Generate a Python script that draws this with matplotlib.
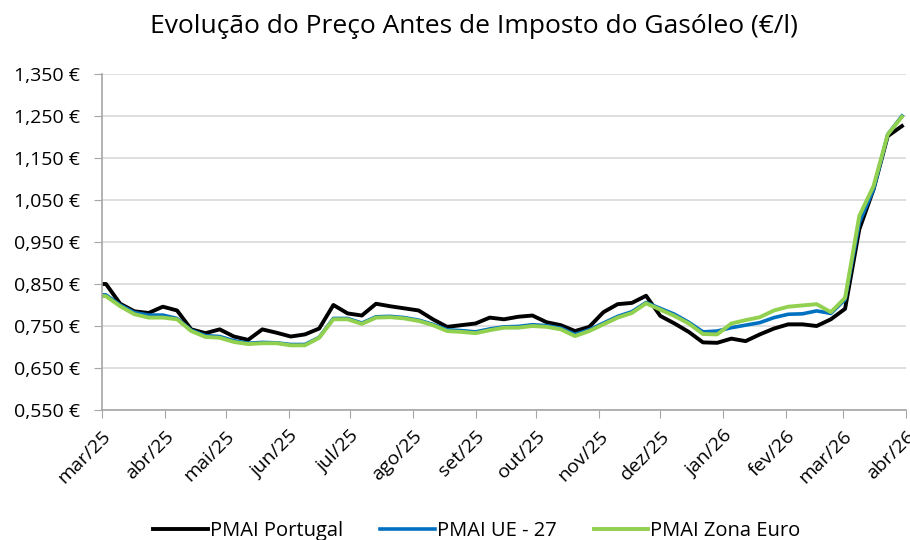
import pandas as pd
import numpy as np
import matplotlib
matplotlib.use("Agg")
import matplotlib.pyplot as plt
import matplotlib.transforms as mtransforms
from matplotlib.ticker import FuncFormatter

# ===============================
# Data (weekly, Mondays)
# ===============================
dates = pd.date_range("2025-02-24", "2026-03-30", freq="W-MON")

pmai_portugal = [
    0.850, 0.850, 0.803, 0.785, 0.781, 0.796, 0.787, 0.742, 0.733, 0.742,
    0.725, 0.717, 0.742, 0.734, 0.725, 0.730, 0.744, 0.800, 0.780, 0.775,
    0.803, 0.797, 0.792,
    0.787, 0.766, 0.748, 0.752, 0.756, 0.770, 0.766, 0.772, 0.775, 0.759,
    0.752, 0.738, 0.748, 0.783, 0.802, 0.805, 0.822, 0.774, 0.756, 0.736,
    0.711,
    0.710, 0.720, 0.714, 0.730, 0.744, 0.754, 0.754, 0.750, 0.766, 0.791,
    0.980, 1.075, 1.202, 1.226,
]

pmai_ue27 = [
    0.825, 0.824, 0.800, 0.782, 0.776, 0.776, 0.768, 0.740, 0.727, 0.725,
    0.715, 0.709, 0.711, 0.710, 0.706, 0.706, 0.723, 0.768, 0.768, 0.757,
    0.772, 0.773, 0.770,
    0.764, 0.754, 0.741, 0.739, 0.736, 0.743, 0.748, 0.749, 0.753, 0.751,
    0.745, 0.730, 0.741, 0.757, 0.773, 0.784, 0.806, 0.792, 0.778, 0.759,
    0.736,
    0.738, 0.746, 0.752, 0.758, 0.770, 0.778, 0.779, 0.786, 0.780, 0.813,
    0.996, 1.075, 1.206, 1.250,
]

pmai_zona_euro = [
    0.822, 0.821, 0.797, 0.778, 0.770, 0.770, 0.766, 0.738, 0.724, 0.722,
    0.712, 0.707, 0.709, 0.709, 0.704, 0.704, 0.722, 0.766, 0.766, 0.755,
    0.770, 0.771, 0.768,
    0.762, 0.752, 0.738, 0.736, 0.733, 0.740, 0.746, 0.746, 0.750, 0.748,
    0.742, 0.726, 0.738, 0.754, 0.770, 0.781, 0.804, 0.789, 0.774, 0.756,
    0.731,
    0.730, 0.756, 0.764, 0.771, 0.787, 0.796, 0.799, 0.802, 0.783, 0.817,
    1.012, 1.083, 1.206, 1.248,
]

month_labels = ["mar/25", "abr/25", "mai/25", "jun/25", "jul/25", "ago/25",
                "set/25", "out/25", "nov/25", "dez/25", "jan/26", "fev/26",
                "mar/26", "abr/26"]
month_ticks = pd.date_range("2025-03-01", "2026-04-01", freq="MS")

# ===============================
# Plot
# ===============================
plt.rcParams["font.family"] = ["Open Sans", "DejaVu Sans"]

fig = plt.figure(figsize=(9.1, 5.4), dpi=100)
ax = fig.add_axes([0.112, 0.2407, 0.8836, 0.6223])

ax.plot(dates, pmai_portugal, color="#000000", lw=2.8, label="PMAI Portugal")
ax.plot(dates, pmai_ue27, color="#0070C0", lw=2.6, label="PMAI UE - 27")
ax.plot(dates, pmai_zona_euro, color="#92D050", lw=2.8, label="PMAI Zona Euro")

ax.set_xlim(month_ticks[0], month_ticks[-1])
ax.set_ylim(0.55, 1.35)
ax.set_yticks(np.arange(0.55, 1.351, 0.1))
ax.yaxis.set_major_formatter(
    FuncFormatter(lambda v, p: f"{v:.3f} €".replace(".", ",")))
ax.grid(axis="y", color="#D9D9D9", lw=1.2)
ax.set_axisbelow(True)

# month ticks, labels drawn as rotated texts under each tick
ax.set_xticks(month_ticks)
ax.set_xticklabels([])
ax.tick_params(axis="x", length=6, color="#A6A6A6")
ax.tick_params(axis="y", length=6, color="#A6A6A6", labelsize=14, pad=10)

lbl_offset = mtransforms.ScaledTranslation(0, -17 / 100, fig.dpi_scale_trans)
for d, txt in zip(month_ticks, month_labels):
    ax.text(d, 0, txt, transform=ax.get_xaxis_transform() + lbl_offset,
            rotation=45, ha="right", va="top", rotation_mode="anchor",
            fontsize=14)

for side in ["top", "right"]:
    ax.spines[side].set_visible(False)
for side in ["left", "bottom"]:
    ax.spines[side].set_color("#A6A6A6")
    ax.spines[side].set_linewidth(1.2)

fig.text(474 / 910, 1 - 33 / 540,
         "Evolução do Preço Antes de Imposto do Gasóleo (€/l)",
         fontsize=19, ha="center", va="baseline")

fig.legend(loc="lower center", bbox_to_anchor=(0.524, -0.035), ncol=3,
           frameon=False, fontsize=14.5, handlelength=2.7, handletextpad=0.1,
           columnspacing=1.85)

fig.savefig("out.png", dpi=100)
